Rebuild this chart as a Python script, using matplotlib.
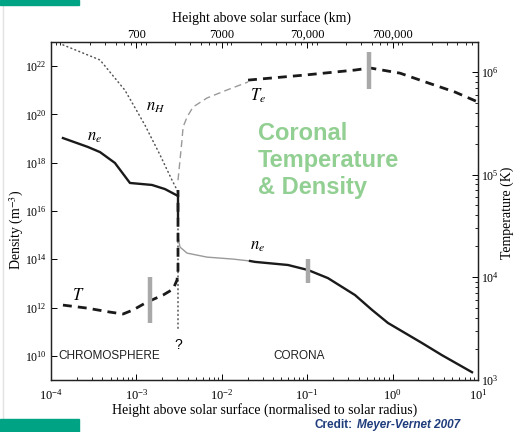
import numpy as np
import matplotlib
matplotlib.use("Agg")
import matplotlib.pyplot as plt
from matplotlib.ticker import FixedLocator, LogLocator, NullFormatter, LogFormatterMathtext
from matplotlib.patches import Rectangle
from matplotlib.lines import Line2D

plt.rcParams["font.family"] = ["Liberation Serif", "DejaVu Serif"]
plt.rcParams["mathtext.fontset"] = "stix"

R_SUN_KM = 7e5  # solar radius, km

# Heights are normalised to the solar radius; densities in m^-3, temperatures in K
nH_h = [1.38e-4, 3.75e-4, 7.35e-4, 1.26e-3, 1.89e-3, 2.61e-3, 3.07e-3, 3.07e-3]
nH_n = [7.6e22, 1.8e22, 1.0e21, 3.6e19, 2.1e18, 1.9e17, 6.2e16, 1.2e11]

ne_chrom_h = [1.38e-4, 2.7e-4, 3.75e-4, 5.6e-4, 8.4e-4, 1.52e-3, 2.16e-3, 3.07e-3, 3.07e-3]
ne_chrom_n = [1.05e19, 4.5e18, 2.75e18, 9.8e17, 1.45e17, 1.2e17, 8.1e16, 4.2e16, 5.6e15]

ne_tr_h = [3.07e-3, 3.24e-3, 3.92e-3, 6.71e-3, 1.35e-2, 2.14e-2]
ne_tr_n = [8.3e14, 3.2e14, 1.8e14, 1.23e14, 1.02e14, 8.5e13]

ne_cor_h = [2.14e-2, 2.45e-2, 5.96e-2, 0.102, 0.175, 0.363, 0.574, 0.883, 2.21, 3.78, 8.51]
ne_cor_n = [8.5e13, 7.8e13, 5.8e13, 3.6e13, 1.66e13, 3.3e12, 8.0e11, 2.3e11, 3.4e10, 1.07e10, 2.1e9]

T_chrom_h = [1.38e-4, 2.64e-4, 4.91e-4, 6.97e-4, 9.12e-4, 1.33e-3, 2.05e-3, 2.69e-3, 2.99e-3, 3.07e-3, 3.07e-3]
T_chrom_K = [5360, 5010, 4580, 4390, 4800, 5730, 6710, 7670, 9400, 11750, 70600]

Te_tr_h = [3.07e-3, 3.42e-3, 3.52e-3, 3.92e-3, 4.60e-3, 6.71e-3, 1.15e-2, 2.03e-2]
Te_tr_K = [8.8e4, 2.17e5, 2.90e5, 3.63e5, 4.54e5, 5.56e5, 6.65e5, 7.96e5]

Te_cor_h = [2.03e-2, 9.42e-2, 0.363, 0.543, 1.22, 2.60, 5.38, 10.0]
Te_cor_K = [8.3e5, 9.3e5, 1.04e6, 1.09e6, 9.7e5, 7.8e5, 6.35e5, 5.08e5]

# Uncertainty bars: (height, low, high)
bar_T_chrom = (1.44e-3, 3.6e3, 1.0e4)
bar_ne_cor = (0.102, 1.05e13, 1.0e14)
bar_T_cor = (0.53, 6.8e5, 1.56e6)

x_ticks = [1e-4, 1e-3, 1e-2, 1e-1, 1e0, 1e1]
km_ticks = [700, 7000, 70000, 700000]
km_labels = ["700", "7000", "70,000", "700,000"]
n_ticks = [1e10, 1e12, 1e14, 1e16, 1e18, 1e20, 1e22]
T_ticks = [1e3, 1e4, 1e5, 1e6]

W, H = 515, 432
fig = plt.figure(figsize=(W / 100, H / 100), dpi=100)
ax = fig.add_axes([51 / W, 1 - 380 / H, 427 / W, 338 / H])
ax2 = ax.twinx()

for a in (ax, ax2):
    for s in a.spines.values():
        s.set_linewidth(0.9)
        s.set_color("#222222")

ax.set_xscale("log")
ax.set_yscale("log")
ax2.set_yscale("log")
ax.set_xlim(1e-4, 1e1)
ax.set_ylim(10 ** 9.0, 10 ** 23.0)
ax2.set_ylim(1e3, 10 ** 6.29)

gray = "#a9a9a9"

# density curves
ax.plot(nH_h, nH_n, color="#555555", lw=1.1, ls=(0, (0.6, 2.2)), dash_capstyle="round")
ax.plot(ne_chrom_h, ne_chrom_n, color="#1a1a1a", lw=1.7, solid_joinstyle="round")
ax.plot(ne_tr_h, ne_tr_n, color="#9a9a9a", lw=1.0)
ax.plot(ne_cor_h, ne_cor_n, color="#1a1a1a", lw=1.7)
ax.plot([bar_ne_cor[0]] * 2, bar_ne_cor[1:], color=gray, lw=3.2, solid_capstyle="butt")

# temperature curves
ax2.plot(T_chrom_h, T_chrom_K, color="#1a1a1a", lw=2.0, ls=(0, (3.2, 2.2)))
ax2.plot(Te_tr_h, Te_tr_K, color="#9a9a9a", lw=1.0, ls=(0, (5, 3)))
ax2.plot(Te_cor_h, Te_cor_K, color="#1a1a1a", lw=2.0, ls=(0, (3.2, 2.2)))
ax2.plot([bar_T_chrom[0]] * 2, bar_T_chrom[1:], color=gray, lw=3.2, solid_capstyle="butt")
ax2.plot([bar_T_cor[0]] * 2, bar_T_cor[1:], color=gray, lw=3.2, solid_capstyle="butt")

# ticks
ax.xaxis.set_major_locator(FixedLocator(x_ticks))
ax.xaxis.set_major_formatter(LogFormatterMathtext())
ax.xaxis.set_minor_locator(LogLocator(base=10, subs=np.arange(2, 10), numticks=20))
ax.xaxis.set_minor_formatter(NullFormatter())
ax.yaxis.set_major_locator(FixedLocator(n_ticks))
ax.yaxis.set_major_formatter(LogFormatterMathtext())
ax.yaxis.set_minor_locator(FixedLocator([]))
ax2.yaxis.set_major_locator(FixedLocator(T_ticks))
ax2.yaxis.set_major_formatter(LogFormatterMathtext())
ax2.yaxis.set_minor_locator(LogLocator(base=10, subs=np.arange(2, 10), numticks=20))
ax2.yaxis.set_minor_formatter(NullFormatter())

ax.tick_params(axis="x", which="major", direction="in", length=4, width=0.7, labelsize=9, pad=5.5)
ax.tick_params(axis="x", which="minor", direction="in", length=2, width=0.6)
ax.tick_params(axis="y", which="major", direction="in", length=4, width=0.7, labelsize=8.5, pad=3)
ax2.tick_params(axis="y", which="major", direction="in", length=4, width=0.7, labelsize=8.5, pad=2)
ax2.tick_params(axis="y", which="minor", direction="in", length=2, width=0.6)

top = ax.secondary_xaxis("top", functions=(lambda h: h * R_SUN_KM, lambda k: k / R_SUN_KM))
top.xaxis.set_major_locator(FixedLocator(km_ticks))
top.set_xticklabels(km_labels)
top.xaxis.set_minor_locator(LogLocator(base=10, subs=np.arange(2, 10), numticks=20))
top.xaxis.set_minor_formatter(NullFormatter())
top.tick_params(axis="x", which="major", direction="in", length=4, width=0.7, labelsize=9, pad=1)
top.tick_params(axis="x", which="minor", direction="in", length=2, width=0.6)
top.spines["top"].set_visible(False)

# axis titles
fig.text(262 / W, 1 - 18 / H, "Height above solar surface (km)", ha="center", va="center", fontsize=10)
fig.text(265 / W, 1 - 410 / H, "Height above solar surface (normalised to solar radius)",
         ha="center", va="center", fontsize=10)
fig.text(17 / W, 1 - 230 / H, "Density (m$^{-3}$)", ha="center", va="center", rotation=90, fontsize=10)
fig.text(507 / W, 1 - 213 / H, "Temperature (K)", ha="center", va="center", rotation=90, fontsize=10)

# curve labels
ax.text(1.66e-3, 10 ** 20.3, "$n_H$", fontsize=12, ha="center", va="center")
ax.text(3.27e-4, 10 ** 19.06, "$n_e$", fontsize=12, ha="center", va="center")
ax.text(2.65e-2, 10 ** 20.76, "$T_e$", fontsize=12, ha="center", va="center")
ax.text(2.65e-2, 10 ** 14.55, "$n_e$", fontsize=12, ha="center", va="center")
ax.text(2.07e-4, 10 ** 12.48, "$T$", fontsize=12, ha="center", va="center")
ax.text(3.07e-3, 10 ** 10.45, "?", fontsize=10, ha="center", va="center", family=["Liberation Sans"])
ax.text(1.21e-4, 10 ** 9.99, "CHROMOSPHERE", fontsize=8.5, ha="left", va="center",
        family=["Liberation Sans"], color="#222222")
ax.text(4.0e-2, 10 ** 9.99, "CORONA", fontsize=8.5, ha="left", va="center",
        family=["Liberation Sans"], color="#222222")

# headline
fig.text(258 / W, 1 - 122 / H, "Coronal\nTemperature\n& Density", ha="left", va="top",
         fontsize=17, fontweight="bold", color="#92cf92", family=["Liberation Sans"],
         linespacing=1.22)

# credit
fig.text(353 / W, 1 - 425 / H, "Credit:", ha="right", va="center", fontsize=8.5,
         fontweight="bold", color="#1f3c7c", family=["Liberation Sans"])
fig.text(357 / W, 1 - 425 / H, "Meyer-Vernet 2007", ha="left", va="center", fontsize=8.5,
         fontweight="bold", fontstyle="italic", color="#1f3c7c", family=["Liberation Sans"])

# slide decorations
teal = "#00a383"
fig.patches.append(Rectangle((0, 1 - 5 / H), 79 / W, 5 / H, transform=fig.transFigure,
                             color=teal, zorder=5))
fig.patches.append(Rectangle((0, 0), 79 / W, 13 / H, transform=fig.transFigure,
                             color=teal, zorder=5))
fig.lines.append(Line2D([2.5 / W, 2.5 / W], [13 / H, 1 - 5 / H], transform=fig.transFigure,
                        color="#e2e2e2", lw=1.0))

fig.savefig("out.png", dpi=100)
